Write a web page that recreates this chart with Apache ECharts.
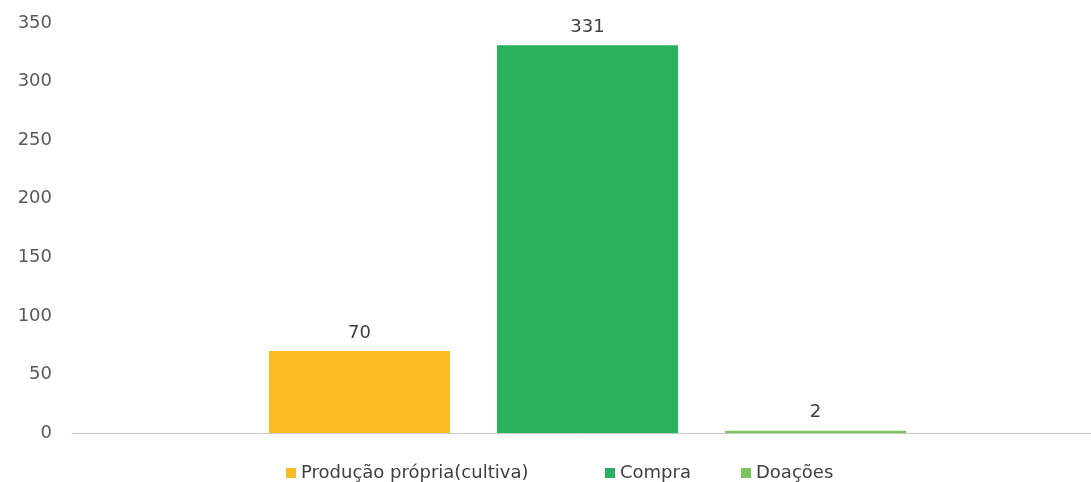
<!DOCTYPE html>
<html>
<head>
<meta charset="utf-8">
<script src="https://cdn.jsdelivr.net/npm/echarts@6/dist/echarts.min.js"></script>
<style>
  html, body { margin: 0; padding: 0; background: #fff; }
  #chart { width: 1091px; height: 482px; }
</style>
</head>
<body>
<div id="chart"></div>
<script>
// Origem dos alimentos
const categories = [''];
const seriesNames = ['Produção própria(cultiva)', 'Compra', 'Doações'];
const producaoPropria = [70];
const compra = [331];
const doacoes = [2];
const yTicks = [0, 50, 100, 150, 200, 250, 300, 350];

const colors = ['#FBBB23', '#29B25D', '#7CC660'];
const values = [producaoPropria, compra, doacoes];
const legendLefts = [281, 600, 736];
const fontFamily = '"DejaVu Sans", Verdana, sans-serif';

const chart = echarts.init(document.getElementById('chart'));
chart.setOption({
  animation: false,
  textStyle: { fontFamily: fontFamily },
  // the plot band runs a little past the right edge so the bar group sits right of centre
  grid: { left: 72, top: 23, width: 1031, height: 410, outerBoundsMode: 'none' },
  // one legend block per series, spaced out along the bottom
  legend: seriesNames.map((name, i) => ({
    top: 459,
    left: legendLefts[i],
    padding: 5,
    itemWidth: 10,
    itemHeight: 10,
    icon: 'rect',
    textStyle: { fontSize: 18, color: '#404040', fontFamily: fontFamily },
    data: [name]
  })),
  xAxis: {
    type: 'category',
    data: categories,
    axisLine: { lineStyle: { color: '#C8C8C8', width: 1 } },
    axisTick: { show: false },
    axisLabel: { show: false }
  },
  yAxis: {
    type: 'value',
    min: yTicks[0],
    max: yTicks[yTicks.length - 1],
    interval: 50,
    axisLine: { show: false },
    axisTick: { show: false },
    splitLine: { show: false },
    axisLabel: { color: '#595959', fontSize: 18, margin: 20, fontFamily: fontFamily }
  },
  series: seriesNames.map((name, i) => ({
    name: name,
    type: 'bar',
    data: values[i],
    barWidth: 181,
    barGap: '26%',
    itemStyle: { color: colors[i] },
    label: {
      show: true,
      position: 'top',
      distance: 9,
      color: '#404040',
      fontSize: 18,
      fontFamily: fontFamily
    }
  }))
});
</script>
</body>
</html>
